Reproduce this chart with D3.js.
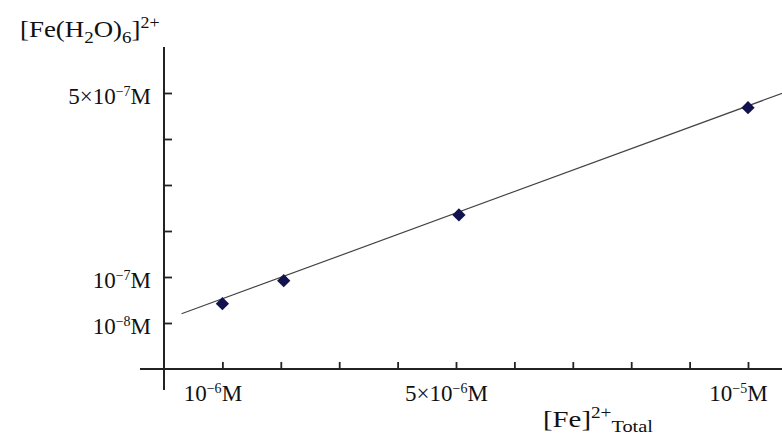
<!DOCTYPE html>
<html>
<head>
<meta charset="utf-8">
<script src="https://cdn.jsdelivr.net/npm/d3@7"></script>
<style>
  html, body { margin: 0; padding: 0; background: #fff; }
  svg text { font-family: "Liberation Serif", "Times New Roman", serif; fill: #111; }
</style>
</head>
<body>
<div id="chart"></div>
<script>
// values are in units of 1e-6 M (x) and 1e-7 M (y)
const feTotal = [1.0, 2.05, 5.05, 10.0];
const feHexaaqua = [0.42, 0.92, 2.35, 4.68];
const fitX = [0.3, 10.6];
const fitY = [0.2, 5.0];

const xTickValues = [1, 2, 3, 4, 5, 6, 7, 8, 9, 10];
const xTickLabels = { 1: '10^{−6}M', 5: '5×10^{−6}M', 10: '10^{−5}M' };
const yTickValues = [0, 1, 2, 3, 4, 5];
const yTickLabels = { 0: '10^{−8}M', 1: '10^{−7}M', 5: '5×10^{−7}M' };

const w = 782;
const h = 436;

const svg = d3.select('#chart')
              .append('svg')
              .attr('width', w)
              .attr('height', h);

const xScale = d3.scaleLinear()
                 .domain([0, 10])
                 .range([164, 748]);

const yScale = d3.scaleLinear()
                 .domain([0, 5])
                 .range([323, 93]);

const axisY = yScale(-1);   // where the x axis sits
const axisX = xScale(0);    // where the y axis sits

// split "5×10^{−6}M" into base / exponent / rest
const richLabel = (sel, str, supSize, supDy) => {
    sel.text(null);
    const m = str.match(/^(.*)\^\{(.*)\}(.*)$/);
    if (!m) { sel.text(str); return; }
    sel.append('tspan').text(m[1]);
    sel.append('tspan').attr('font-size', supSize).attr('dy', supDy).text(m[2]);
    sel.append('tspan').attr('dy', -supDy).text(m[3]);
}

// axes
const xAxis = d3.axisBottom(xScale)
                .tickValues(xTickValues)
                .tickSizeInner(-7)
                .tickSizeOuter(0)
                .tickPadding(16)
                .tickFormat(d => xTickLabels[d] || '');

const yAxis = d3.axisLeft(yScale)
                .tickValues(yTickValues)
                .tickSizeInner(-8)
                .tickSizeOuter(0)
                .tickPadding(13)
                .tickFormat(d => yTickLabels[d] || '');

const gx = svg.append('g')
              .attr('transform', `translate(0, ${axisY})`)
              .call(xAxis);

const gy = svg.append('g')
              .attr('transform', `translate(${axisX}, 0)`)
              .call(yAxis);

[gx, gy].forEach(g => {
    g.select('.domain').remove();
    g.selectAll('.tick line').attr('stroke', '#222').attr('stroke-width', 1.8);
    g.selectAll('.tick text')
     .attr('font-size', 23)
     .attr('fill', '#111');
});

gx.selectAll('.tick text')
  .attr('dx', -10)
  .each(function(d) { if (xTickLabels[d]) richLabel(d3.select(this), xTickLabels[d], 14, -8); });

gy.selectAll('.tick text')
  .attr('y', 3)
  .each(function(d) { if (yTickLabels[d]) richLabel(d3.select(this), yTickLabels[d], 14, -8); });

// axis lines
svg.append('line')
   .attr('x1', 140).attr('x2', w)
   .attr('y1', axisY).attr('y2', axisY)
   .attr('stroke', '#222').attr('stroke-width', 2);

svg.append('line')
   .attr('x1', axisX).attr('x2', axisX)
   .attr('y1', yScale(6)).attr('y2', axisY + 21)
   .attr('stroke', '#222').attr('stroke-width', 2);

// fitted line
const line = d3.line()
               .x(d => xScale(d[0]))
               .y(d => yScale(d[1]));

svg.append('path')
   .datum(d3.zip(fitX, fitY))
   .attr('d', line)
   .attr('fill', 'none')
   .attr('stroke', '#444')
   .attr('stroke-width', 1.2);

// points
const diamond = d3.symbol().type(d3.symbolSquare).size(88);

svg.selectAll('.pt')
   .data(d3.zip(feTotal, feHexaaqua))
   .enter()
   .append('path')
   .attr('class', 'pt')
   .attr('d', diamond)
   .attr('transform', d => `translate(${xScale(d[0])}, ${yScale(d[1])}) rotate(45)`)
   .attr('fill', '#12124f');

// axis titles
const yTitle = svg.append('text')
                  .attr('transform', 'translate(20, 37) scale(1.12, 1)')
                  .attr('font-size', 24);
yTitle.append('tspan').text('[Fe(H');
yTitle.append('tspan').attr('font-size', 17).attr('dy', 6).text('2');
yTitle.append('tspan').attr('dy', -6).text('O)');
yTitle.append('tspan').attr('font-size', 17).attr('dy', 6).text('6');
yTitle.append('tspan').attr('dy', -6).text(']');
yTitle.append('tspan').attr('font-size', 16).attr('dy', -9).text('2+');

const xTitle = svg.append('text')
                  .attr('transform', 'translate(543, 427) scale(1.2, 1)')
                  .attr('font-size', 24);
xTitle.append('tspan').text('[Fe]');
xTitle.append('tspan').attr('font-size', 16).attr('dy', -9).text('2+');
xTitle.append('tspan').attr('font-size', 17).attr('dy', 14).text('Total');
</script>
</body>
</html>
